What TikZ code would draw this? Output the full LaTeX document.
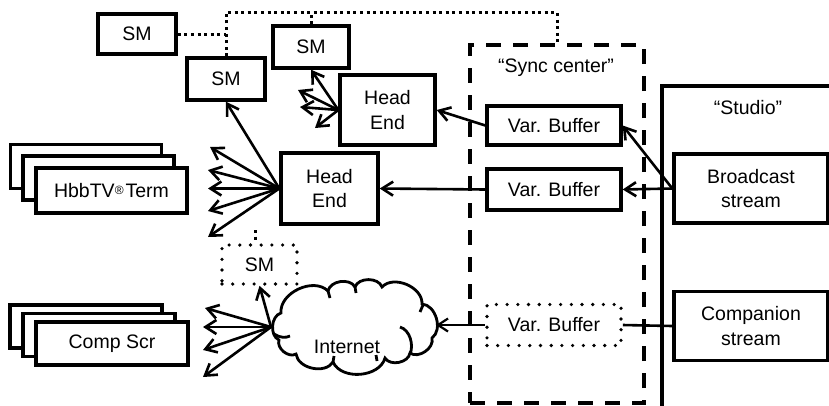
\documentclass[tikz,border=0pt]{standalone}
\usepackage{fontspec}
\setmainfont{Liberation Sans}
\usetikzlibrary{arrows.meta}
\begin{document}
\begin{tikzpicture}[x=1pt,y=-1pt,
  font=\fontsize{19.5}{24.5}\selectfont,
  box/.style={draw, line width=3.4pt, fill=white, align=center, inner sep=0pt},
  dotbox/.style={draw, line width=3.6pt, dash pattern=on 0pt off 10.7pt, line cap=round, fill=white, align=center, inner sep=0pt},
  dashbox/.style={draw, line width=3.4pt, dash pattern=on 15pt off 12pt, inner sep=0pt},
  arr/.style={line width=2.6pt, -{Straight Barb[length=11pt,width=14pt]}},
  thinarr/.style={line width=2.2pt, -{Straight Barb[length=10pt,width=13pt]}},
  dotline/.style={line width=3pt, dash pattern=on 3pt off 3.6pt},
  plainline/.style={line width=2.6pt},
  lbl/.style={inner sep=0pt}
]
\useasboundingbox (0,0) rectangle (829,405);

% Sync center (dashed)
\node[dashbox, minimum width=174pt, minimum height=358pt] (sync) at (557,224) {};
\node[lbl] (synclbl) at (556,68) {“Sync center”};

% Studio (open box)
\coordinate (stTL) at (662,86);
\draw[line width=3.4pt] (662,412) -- (stTL) -- (840,86);
\node[lbl] (studiolbl) at (748,108) {“Studio”};

% SM boxes
\node[box, minimum width=78pt, minimum height=40pt] (sm1) at (137,34) {SM};
\node[box, minimum width=78pt, minimum height=42pt] (sm2) at (226,79) {SM};
\node[box, minimum width=76pt, minimum height=42pt] (sm3) at (311,47) {SM};
\node[dotbox, minimum width=75pt, minimum height=39pt] (smd) at (259.5,264.5) {SM};

% Head ends
\node[box, minimum width=95pt, minimum height=70pt] (he1) at (387.5,110) {Head\\End};
\node[box, minimum width=97pt, minimum height=71pt] (he2) at (329.5,188.5) {Head\\End};

% Var buffers
\node[box, minimum width=134pt, minimum height=39pt] (vb1) at (554,125.5) {Var. Buffer};
\node[box, minimum width=134pt, minimum height=41pt] (vb2) at (554,189.5) {Var. Buffer};
\node[dotbox, minimum width=134pt, minimum height=41pt] (vb3) at (554,325) {Var. Buffer};

% Studio streams
\node[box, minimum width=154pt, minimum height=69pt] (bs) at (751,188.5) {Broadcast\\stream};
\node[box, minimum width=154pt, minimum height=69pt] (cs) at (751,326) {Companion\\stream};

% HbbTV stack
\node[box, minimum width=151pt, minimum height=44pt] (hb3) at (86,166.5) {};
\node[box, minimum width=151pt, minimum height=44pt] (hb2) at (98.5,178) {};
\node[box, minimum width=151pt, minimum height=45pt] (hb1) at (111.5,190.5)
  {HbbTV\raisebox{3pt}{\fontsize{12}{12}\selectfont ®}\hspace{2pt}Term};

% Comp Scr stack
\node[box, minimum width=152pt, minimum height=43pt] (cp3) at (86,326.5) {};
\node[box, minimum width=152pt, minimum height=43pt] (cp2) at (99,335) {};
\node[box, minimum width=152pt, minimum height=43pt] (cp1) at (112,343.5) {Comp Scr};

% Cloud
\draw[line width=2.8pt, fill=white]
  (281,313) to[bend left=70] (328,291) to[bend left=70] (355,287)
  to[bend left=70] (382,287) to[bend left=70] (422,304)
  to[bend left=70] (432,338) to[bend left=70] (410,353)
  to[bend left=70] (385,358) to[bend left=70] (333,362)
  to[bend left=70] (296,354) to[bend left=70] (279,340)
  to[bend left=70] (281,313) -- cycle;
\draw[line width=2.8pt]
  (274,334) .. controls (280,338) and (286,338) .. (290,336)
  (328,291) -- (330,298)
  (355,287) -- (356,293)
  (423,305) -- (420,312)
  (400,327) .. controls (410,330) and (414,345) .. (410,354)
  (333,362) -- (334,356)
  (377,361) -- (376,355);
\node[lbl] (inet) at (347,347) {Internet};
\coordinate (cloudW) at (271,327);
\coordinate (cloudE) at (436,325);

% Dotted sync-message network
\coordinate (tl) at (226,12);
\coordinate (tr) at (557,12);
\draw[dotline] (sm2.north) -- (tl) -- (tr) -- (tr |- sync.north);
\draw[dotline] (sm1.east) -- (sm1.east -| tl);
\draw[dotline] (sm3.north) -- (sm3.north |- tl);
\coordinate (stub) at (255,230);
\draw[dotline] (stub) -- (stub |- smd.north);

% Arrows from upper head end
\coordinate (e11) at (298,90);
\coordinate (e12) at (300,107);
\coordinate (e13) at (315,128);
\draw[arr] (he1.west) -- (sm3.south);
\draw[arr] (he1.west) -- (e11);
\draw[arr] (he1.west) -- (e12);
\draw[arr] (he1.west) -- (e13);

% Arrows from lower head end
\coordinate (e21) at (210,147);
\coordinate (e22) at (208,170);
\coordinate (e23) at (208,188.5);
\coordinate (e24) at (208,211);
\coordinate (e25) at (208,237);
\draw[arr] (he2.west) -- (sm2.south);
\draw[arr] (he2.west) -- (e21);
\draw[arr] (he2.west) -- (e22);
\draw[arr] (he2.west) -- (e23);
\draw[arr] (he2.west) -- (e24);
\draw[arr] (he2.west) -- (e25);

% Arrows from the cloud
\coordinate (c1) at (205,308);
\coordinate (c2) at (203,327);
\coordinate (c3) at (203,350);
\coordinate (c4) at (203,377);
\draw[arr] (cloudW) -- (smd.south);
\draw[arr] (cloudW) -- (c1);
\draw[arr] (cloudW) -- (c2);
\draw[arr] (cloudW) -- (c3);
\draw[arr] (cloudW) -- (c4);

% Buffers and streams
\draw[arr] (vb1.west) -- (he1.east);
\draw[arr] (vb2.west) -- (he2.east);
\draw[arr] (bs.west) -- (vb1.east);
\draw[arr] (bs.west) -- (vb2.east);
\draw[plainline] (cs.west) -- (vb3.east);
\draw[thinarr] (vb3.west) -- (cloudE);
\end{tikzpicture}
\end{document}
